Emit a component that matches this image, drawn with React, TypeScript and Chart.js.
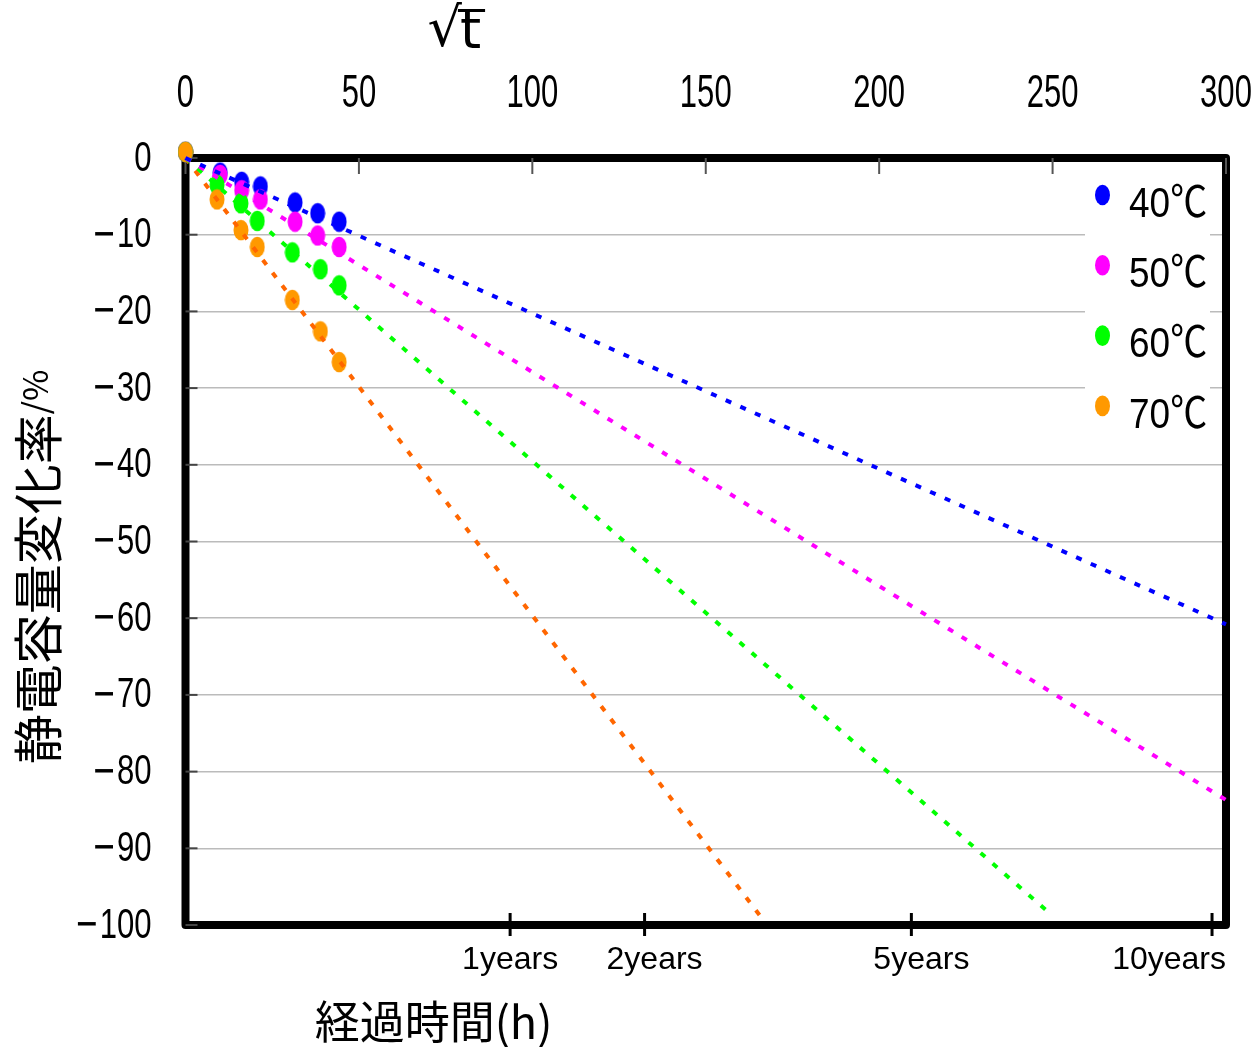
import React, { useEffect, useRef } from "react";
import { Chart, registerables } from "chart.js";

Chart.register(...registerables);

// ---- data ----
const seriesLabels = ["40℃", "50℃", "60℃", "70℃"];
const pointColors = ["#0000FF", "#FF00FF", "#00FF00", "#FF9900"];
const lineColors = ["#0000FF", "#FF00FF", "#00FF00", "#FF6600"];

// √t (sqrt of hours) of the measurements
const sqrtTimeA = [0, 10, 16.2, 21.6, 31.6, 38.1, 44.3];
const sqrtTimeB = [0, 9.1, 16.0, 20.7, 30.8, 38.9, 44.3];

const change40 = [0.8, -1.9, -3.1, -3.7, -5.8, -7.2, -8.3];
const change50 = [0.8, -2.2, -4.2, -5.4, -8.3, -10.1, -11.6];
const change60 = [0.8, -3.5, -5.9, -8.2, -12.3, -14.5, -16.6];
const change70 = [0.8, -5.4, -9.4, -11.6, -18.5, -22.6, -26.6];

// extrapolation lines: [start √t, start %, end √t, end %]
const trend40 = [0, 0, 300, -60.8];
const trend50 = [0, 0, 300, -83.7];
const trend60 = [0, 0, 250, -98.8];
const trend70 = [0, 0, 166, -99];

const topTicks = [0, 50, 100, 150, 200, 250, 300];
const yearLabels = ["1years", "2years", "5years", "10years"];
const yearHours = [8760, 17520, 43800, 87600];

const xTitle = "経過時間(h)";
const yTitleMain = "静電容量変化率";
const yTitleUnit = "/%";
const topTitleRoot = "√";
const topTitleVar = "t";

// layout-only constants
const YEAR_LABEL_SHIFT = [0, 10, 10, 0];
const NUM_FONT = "'Liberation Sans', 'Noto Sans CJK JP', sans-serif";
const CJK_FONT = "'Noto Sans CJK JP', sans-serif";

function ellipseImage(color: string) {
  const c = document.createElement("canvas");
  c.width = 16;
  c.height = 22;
  const g = c.getContext("2d")!;
  g.fillStyle = color;
  g.beginPath();
  g.ellipse(8, 11, 7.5, 10.3, 0, 0, Math.PI * 2);
  g.fill();
  return c;
}

function drawText(
  ctx: CanvasRenderingContext2D,
  text: string,
  x: number,
  y: number,
  font: string,
  sx: number,
  align: CanvasTextAlign
) {
  ctx.save();
  ctx.translate(x, y);
  ctx.scale(sx, 1);
  ctx.font = font;
  ctx.textAlign = align;
  ctx.textBaseline = "middle";
  ctx.fillStyle = "#000";
  ctx.fillText(text, 0, 0);
  const w = ctx.measureText(text).width * sx;
  ctx.restore();
  return w;
}

export default function App() {
  const ref = useRef<HTMLCanvasElement | null>(null);

  useEffect(() => {
    document.body.style.margin = "0";
    const canvas = ref.current!;
    const images = pointColors.map(ellipseImage);
    const values = [change40, change50, change60, change70];
    const xs = [sqrtTimeA, sqrtTimeA, sqrtTimeB, sqrtTimeB];
    const trends = [trend40, trend50, trend60, trend70];

    const pointSets = values.map((vals, i) => ({
      type: "scatter" as const,
      label: seriesLabels[i],
      data: vals.map((v, j) => ({ x: xs[i][j], y: v })),
      pointStyle: images[i],
      backgroundColor: pointColors[i],
      borderColor: pointColors[i],
      pointRadius: 10,
      showLine: false,
      order: 4 - i,
      clip: false as any,
    }));
    const lineSets = trends.map((t, i) => ({
      type: "scatter" as const,
      label: seriesLabels[i] + " trend",
      data: [
        { x: t[0], y: t[1] },
        { x: t[2], y: t[3] },
      ],
      showLine: true,
      borderColor: lineColors[i],
      borderWidth: 4,
      borderDash: [6, 10],
      pointRadius: 0,
      order: 0,
      clip: false as any,
    }));

    const decor = {
      id: "decor",
      beforeDatasetsDraw(chart: any) {
        const { ctx, chartArea: a, scales } = chart;
        ctx.save();
        // legend background
        ctx.fillStyle = "#FFFFFF";
        ctx.fillRect(a.right - 141, a.top + 4, 125, 282);
        // frame
        ctx.lineWidth = 8;
        ctx.strokeStyle = "#000";
        ctx.lineJoin = "round";
        ctx.strokeRect(a.left, a.top, a.right - a.left, a.bottom - a.top);
        // inner ticks on y
        ctx.lineWidth = 2;
        ctx.strokeStyle = "#444";
        scales.y.ticks.forEach((t: any) => {
          const py = scales.y.getPixelForValue(t.value);
          ctx.beginPath();
          ctx.moveTo(a.left, py);
          ctx.lineTo(a.left + 12, py);
          ctx.stroke();
        });
        // inner ticks on top axis
        ctx.strokeStyle = "#555";
        scales.x.ticks.forEach((t: any) => {
          const px = scales.x.getPixelForValue(t.value);
          ctx.beginPath();
          ctx.moveTo(px, a.top);
          ctx.lineTo(px, a.top + 16);
          ctx.stroke();
        });
        // year ticks crossing bottom border
        ctx.strokeStyle = "#000";
        ctx.lineWidth = 3;
        yearHours.forEach((h) => {
          const px = scales.x2.getPixelForValue(Math.sqrt(h));
          ctx.beginPath();
          ctx.moveTo(px, a.bottom - 12);
          ctx.lineTo(px, a.bottom + 11);
          ctx.stroke();
        });
        // legend
        seriesLabels.forEach((lab, i) => {
          const cy = a.top + 37 + i * 70.3;
          ctx.fillStyle = pointColors[i];
          ctx.beginPath();
          ctx.ellipse(a.right - 123.5, cy, 7.5, 10.3, 0, 0, Math.PI * 2);
          ctx.fill();
          drawText(ctx, lab, a.right - 97, cy + 10, `43px ${NUM_FONT}`, 0.86, "left");
        });
        ctx.restore();
      },
      afterDraw(chart: any) {
        const { ctx, chartArea: a, scales } = chart;
        ctx.save();
        // top tick labels
        scales.x.ticks.forEach((t: any) => {
          const px = scales.x.getPixelForValue(t.value);
          drawText(ctx, String(t.value), px, 94, `47px ${NUM_FONT}`, 0.66, "center");
        });
        // y tick labels
        scales.y.ticks.forEach((t: any) => {
          const py = scales.y.getPixelForValue(t.value);
          const digits = String(Math.abs(t.value));
          const wd = drawText(ctx, digits, a.left - 34, py + 1, `42px ${NUM_FONT}`, 0.74, "right");
          if (t.value < 0) {
            drawText(ctx, "−", a.left - 34 - wd - 1, py + 1, `42px 'DejaVu Sans', sans-serif`, 0.68, "right");
          }
        });
        // year labels
        ctx.font = `32px 'Liberation Sans', sans-serif`;
        yearHours.forEach((h, i) => {
          const px = scales.x2.getPixelForValue(Math.sqrt(h));
          const w = ctx.measureText(yearLabels[i]).width;
          let cx = px + YEAR_LABEL_SHIFT[i];
          if (cx + w / 2 > a.right) cx = a.right - w / 2;
          drawText(ctx, yearLabels[i], cx, 960, `32px 'Liberation Sans', sans-serif`, 1, "center");
        });
        // top title √t with vinculum
        const tx = a.left + 242;
        const wr = drawText(ctx, topTitleRoot, tx, 32, `54px 'DejaVu Sans', sans-serif`, 1, "left");
        const wt = drawText(ctx, topTitleVar, tx + wr - 2, 34, `54px 'DejaVu Sans', sans-serif`, 1, "left");
        ctx.strokeStyle = "#000";
        ctx.lineWidth = 3;
        ctx.beginPath();
        ctx.moveTo(tx + wr - 4, 10.5);
        ctx.lineTo(tx + wr + wt + 2, 10.5);
        ctx.stroke();
        // x title
        drawText(ctx, xTitle, a.left + 248, 1022, `45px ${CJK_FONT}`, 1, "center");
        // y title (rotated)
        ctx.translate(38, 567);
        ctx.rotate(-Math.PI / 2);
        ctx.font = `50px ${CJK_FONT}`;
        const w1 = ctx.measureText(yTitleMain).width;
        ctx.font = `34px ${CJK_FONT}`;
        const w2 = ctx.measureText(yTitleUnit).width;
        const start = -(w1 + w2) / 2;
        ctx.fillStyle = "#000";
        ctx.textAlign = "left";
        ctx.textBaseline = "middle";
        ctx.font = `50px ${CJK_FONT}`;
        ctx.fillText(yTitleMain, start, 0);
        ctx.font = `34px ${CJK_FONT}`;
        ctx.fillText(yTitleUnit, start + w1, -3);
        ctx.restore();
      },
    };

    const fixPad = (s: any) => {
      s.paddingLeft = 0;
      s.paddingRight = 0;
      s.paddingTop = 0;
      s.paddingBottom = 0;
    };

    const chart = new Chart(canvas, {
      type: "scatter",
      data: { datasets: [...pointSets, ...lineSets] as any },
      options: {
        animation: false,
        responsive: false,
        layout: { padding: { left: 0, right: 34, top: 0, bottom: 0 } },
        plugins: { legend: { display: false }, tooltip: { enabled: false } },
        scales: {
          x: {
            type: "linear",
            position: "top",
            min: 0,
            max: 300,
            afterBuildTicks: (s: any) => {
              s.ticks = topTicks.map((v) => ({ value: v }));
            },
            afterFit: (s: any) => {
              s.height = 158;
              fixPad(s);
            },
            grid: { display: false, drawTicks: false },
            border: { display: false },
            ticks: { display: false },
          },
          x2: {
            type: "linear",
            position: "bottom",
            min: 0,
            max: 300,
            afterFit: (s: any) => {
              s.height = 122;
              fixPad(s);
            },
            grid: { display: false, drawTicks: false },
            border: { display: false },
            ticks: { display: false },
          },
          y: {
            type: "linear",
            min: -100,
            max: 0,
            afterFit: (s: any) => {
              s.width = 185.5;
              fixPad(s);
            },
            grid: { color: "#BBBBBB", lineWidth: 1.5, drawTicks: false },
            border: { display: false },
            ticks: { display: false, stepSize: 10 },
          },
        },
      },
      plugins: [decor],
    });
    return () => chart.destroy();
  }, []);

  return (
    <div style={{ width: 1260, height: 1047 }}>
      <canvas ref={ref} width={1260} height={1047} />
    </div>
  );
}
